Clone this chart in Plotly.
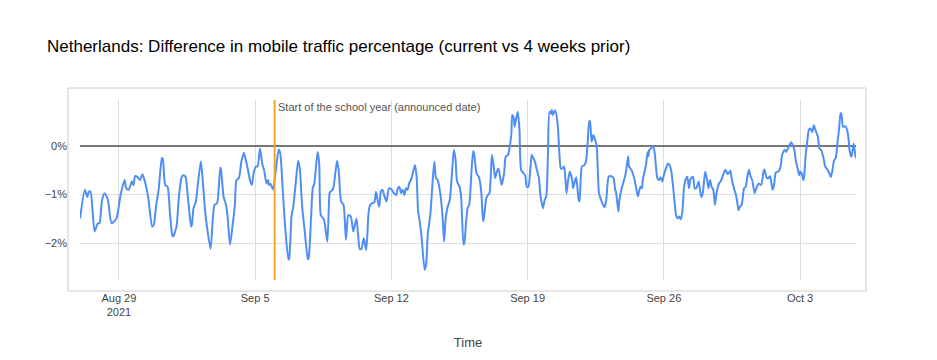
import pandas as pd
import plotly.graph_objects as go

TITLE = "Netherlands: Difference in mobile traffic percentage (current vs 4 weeks prior)"
ANNOT_DATE = "2021-09-06"
ANNOT_TEXT = "Start of the school year (announced date)"
Y_TICKS = [-2, -1, 0]
Y_TICK_LABELS = ["\u22122%", "\u22121%", "0%"]

times = [
    "08-27 00", "08-27 06", "08-27 09", "08-27 11", "08-27 13", "08-27 18", "08-27 22",
    "08-28 00", "08-28 03", "08-28 06", "08-28 10", "08-28 15", "08-28 21",
    "08-29 02", "08-29 07", "08-29 09", "08-29 12", "08-29 16", "08-29 18", "08-29 20", "08-29 23",
    "08-30 02", "08-30 05", "08-30 08", "08-30 12", "08-30 17", "08-30 19", "08-30 22",
    "08-31 01", "08-31 05", "08-31 06", "08-31 09", "08-31 12", "08-31 15", "08-31 18", "08-31 19", "08-31 23",
    "09-01 02", "09-01 05", "09-01 07", "09-01 10", "09-01 13", "09-01 17", "09-01 18", "09-01 20", "09-01 23",
    "09-02 01", "09-02 05", "09-02 07", "09-02 10", "09-02 12", "09-02 17", "09-02 20", "09-02 22",
    "09-03 01", "09-03 05", "09-03 06", "09-03 09", "09-03 12", "09-03 14", "09-03 17", "09-03 20", "09-03 23",
    "09-04 01", "09-04 04", "09-04 07", "09-04 10", "09-04 12", "09-04 15", "09-04 18", "09-04 20", "09-04 22",
    "09-05 01", "09-05 03", "09-05 06", "09-05 09", "09-05 11", "09-05 14", "09-05 16", "09-05 17", "09-05 19", "09-05 22",
    "09-06 01", "09-06 05", "09-06 07", "09-06 10", "09-06 13", "09-06 17", "09-06 18", "09-06 21", "09-06 23",
    "09-07 02", "09-07 05", "09-07 07", "09-07 10", "09-07 13", "09-07 17", "09-07 18", "09-07 21", "09-07 23",
    "09-08 01", "09-08 05", "09-08 07", "09-08 09", "09-08 13", "09-08 17", "09-08 19", "09-08 20",
    "09-09 00", "09-09 05", "09-09 07", "09-09 10", "09-09 13", "09-09 16", "09-09 19", "09-09 22",
    "09-10 01", "09-10 05", "09-10 09", "09-10 11", "09-10 14", "09-10 17", "09-10 20", "09-10 22",
    "09-11 00", "09-11 03", "09-11 05", "09-11 07", "09-11 09", "09-11 11", "09-11 13", "09-11 15", "09-11 18", "09-11 21",
    "09-12 00", "09-12 03", "09-12 06", "09-12 08", "09-12 10", "09-12 12", "09-12 14", "09-12 16", "09-12 18", "09-12 20", "09-12 22",
    "09-13 01", "09-13 05", "09-13 07", "09-13 09", "09-13 10", "09-13 13", "09-13 17", "09-13 19", "09-13 21",
    "09-14 00", "09-14 03", "09-14 05", "09-14 07", "09-14 09", "09-14 12", "09-14 15", "09-14 17", "09-14 19", "09-14 21",
    "09-15 00", "09-15 03", "09-15 05", "09-15 07", "09-15 09", "09-15 12", "09-15 14", "09-15 17", "09-15 18", "09-15 20", "09-15 22",
    "09-16 00", "09-16 03", "09-16 05", "09-16 06", "09-16 09", "09-16 12", "09-16 15", "09-16 17", "09-16 18", "09-16 21", "09-16 23",
    "09-17 01", "09-17 04", "09-17 06", "09-17 08", "09-17 10", "09-17 12", "09-17 14", "09-17 16", "09-17 19", "09-17 21",
    "09-18 00", "09-18 02", "09-18 04", "09-18 05", "09-18 07", "09-18 08", "09-18 10", "09-18 12", "09-18 14", "09-18 16", "09-18 19", "09-18 21", "09-18 23",
    "09-19 01", "09-19 05", "09-19 06", "09-19 09", "09-19 11", "09-19 14", "09-19 16", "09-19 19", "09-19 21", "09-19 23",
    "09-20 01", "09-20 03", "09-20 05", "09-20 06", "09-20 07", "09-20 10", "09-20 13", "09-20 15", "09-20 17", "09-20 19", "09-20 21",
    "09-21 00", "09-21 02", "09-21 04", "09-21 07", "09-21 08", "09-21 11", "09-21 12", "09-21 15", "09-21 16", "09-21 19", "09-21 22",
    "09-22 00", "09-22 02", "09-22 04", "09-22 05", "09-22 07", "09-22 09", "09-22 10", "09-22 13", "09-22 16", "09-22 18", "09-22 21", "09-22 23",
    "09-23 01", "09-23 04", "09-23 07", "09-23 10", "09-23 12", "09-23 13", "09-23 16", "09-23 17", "09-23 20", "09-23 23",
    "09-24 01", "09-24 04", "09-24 05", "09-24 08", "09-24 12", "09-24 14", "09-24 16", "09-24 19", "09-24 21", "09-24 22",
    "09-25 02", "09-25 04", "09-25 05", "09-25 06", "09-25 08", "09-25 11", "09-25 13", "09-25 16", "09-25 18", "09-25 20", "09-25 22",
    "09-26 00", "09-26 03", "09-26 05", "09-26 07", "09-26 09", "09-26 11", "09-26 13", "09-26 15", "09-26 17", "09-26 19", "09-26 21", "09-26 23",
    "09-27 01", "09-27 03", "09-27 05", "09-27 07", "09-27 09", "09-27 12", "09-27 14", "09-27 16", "09-27 19", "09-27 22",
    "09-28 00", "09-28 03", "09-28 05", "09-28 07", "09-28 09", "09-28 11", "09-28 13", "09-28 15", "09-28 17", "09-28 20", "09-28 22",
    "09-29 01", "09-29 04", "09-29 07", "09-29 10", "09-29 12", "09-29 15", "09-29 17", "09-29 19", "09-29 20", "09-29 22",
    "09-30 00", "09-30 03", "09-30 05", "09-30 07", "09-30 09", "09-30 11", "09-30 13", "09-30 16", "09-30 18", "09-30 21",
    "10-01 00", "10-01 03", "10-01 04", "10-01 07", "10-01 09", "10-01 11", "10-01 13", "10-01 14", "10-01 16", "10-01 18", "10-01 22",
    "10-02 00", "10-02 02", "10-02 05", "10-02 07", "10-02 09", "10-02 11", "10-02 13", "10-02 15", "10-02 17", "10-02 19", "10-02 21", "10-02 23",
    "10-03 00", "10-03 02", "10-03 04", "10-03 05", "10-03 07", "10-03 09", "10-03 11", "10-03 13", "10-03 15", "10-03 17", "10-03 19", "10-03 22",
    "10-04 00", "10-04 02", "10-04 05", "10-04 07", "10-04 10", "10-04 12", "10-04 14", "10-04 16", "10-04 18", "10-04 20", "10-04 22",
    "10-05 00", "10-05 02", "10-05 03", "10-05 05", "10-05 08", "10-05 10", "10-05 12", "10-05 13", "10-05 15", "10-05 16", "10-05 18", "10-05 19", "10-05 21",
]

values = [
    -1.49, -0.90, -1.05, -0.94, -0.94, -1.76, -1.59,
    -1.59, -1.14, -0.97, -1.08, -1.59, -1.49,
    -1.01, -0.70, -0.87, -0.90, -0.73, -0.80, -0.62, -0.64,
    -0.70, -0.58, -0.73, -1.04, -1.66, -1.62, -1.21,
    -0.90, -0.25, -0.25, -0.80, -0.84, -1.40, -1.85, -1.86, -1.66,
    -1.04, -0.66, -0.60, -0.63, -1.04, -1.66, -1.62, -1.28, -1.14,
    -0.84, -0.32, -0.63, -1.28, -1.59, -2.12, -1.45, -1.21,
    -1.18, -0.44, -0.49, -1.04, -1.21, -1.45, -2.03, -1.66, -1.21,
    -0.70, -0.66, -0.32, -0.14, -0.25, -0.48, -0.73, -0.80, -0.56,
    -0.42, -0.42, -0.05, -0.39, -0.49, -0.77, -0.70, -0.80, -0.78, -0.89,
    -0.56, -0.07, -0.15, -0.90, -1.66, -2.34, -2.31, -1.42, -1.25,
    -0.77, -0.30, -0.46, -1.25, -1.73, -2.33, -2.31, -1.45, -0.87,
    -0.77, -0.12, -0.36, -1.42, -1.52, -1.97, -1.18, -0.96,
    -0.89, -0.30, -0.49, -1.14, -1.21, -1.93, -1.42, -1.45,
    -1.76, -1.49, -2.12, -2.12, -1.90, -2.14, -1.35, -1.21,
    -1.18, -1.16, -0.94, -1.11, -1.25, -0.94, -0.90, -1.01, -1.14, -0.87,
    -0.89, -0.97, -1.01, -0.87, -0.84, -0.97, -0.90, -1.01, -0.87, -0.90, -0.77,
    -0.66, -0.39, -0.60, -1.36, -1.45, -1.83, -2.55, -2.41, -1.79,
    -1.42, -0.70, -0.32, -0.66, -0.70, -0.94, -1.42, -1.97, -1.49, -1.28,
    -1.11, -0.49, -0.08, -0.25, -0.73, -0.84, -1.04, -2.03, -2.00, -1.60, -1.28,
    -1.21, -0.46, -0.10, -0.15, -0.56, -0.64, -0.97, -1.55, -1.49, -1.08, -1.01,
    -0.97, -0.18, -0.39, -0.66, -0.53, -0.46, -0.63, -0.80, -0.56, -0.22,
    -0.18, -0.01, 0.26, 0.64, 0.57, 0.40, 0.57, 0.71, 0.33, -0.49, -0.56, -0.60, -0.84,
    -0.84, -0.18, -0.21, -0.32, -0.46, -0.66, -1.04, -1.28, -1.11, -1.04,
    -0.22, 0.71, 0.67, 0.75, 0.64, 0.74, 0.47, -0.08, -0.46, -0.46, -0.42,
    -0.97, -0.70, -0.53, -0.70, -0.87, -0.68, -0.64, -1.11, -1.14, -0.42, -0.39,
    -0.32, 0.05, 0.52, 0.50, 0.09, 0.23, 0.19, 0.02, -0.97, -1.08, -1.21, -1.26,
    -1.11, -0.63, -0.62, -0.66, -0.90, -0.94, -1.35, -1.14, -0.87, -0.70,
    -0.56, -0.21, -0.42, -0.49, -0.70, -0.87, -1.04, -0.84, -0.87, -0.70,
    -0.39, -0.12, -0.21, -0.08, -0.05, 0.00, -0.18, -0.66, -0.70, -0.64, -0.73,
    -0.60, -0.44, -0.36, -0.39, -0.49, -0.77, -1.11, -1.42, -1.49, -1.45, -1.51, -1.32,
    -0.84, -0.68, -0.63, -0.87, -0.68, -0.63, -0.87, -0.87, -0.73, -1.05,
    -0.97, -0.53, -0.66, -0.87, -0.70, -0.84, -0.90, -1.21, -0.97, -0.77, -0.73,
    -0.60, -0.49, -0.58, -0.51, -0.70, -0.90, -1.01, -1.21, -1.32, -1.25,
    -1.21, -0.87, -0.84, -0.63, -0.49, -0.63, -0.70, -0.97, -0.87, -0.77,
    -0.80, -0.53, -0.48, -0.66, -0.66, -0.62, -0.79, -0.90, -0.80, -0.55, -0.51,
    -0.42, -0.18, -0.08, -0.12, -0.05, 0.02, 0.08, 0.02, -0.08, -0.32, -0.46, -0.60,
    -0.53, -0.56, -0.70, -0.63, -0.18, 0.12, 0.34, 0.36, 0.29, 0.43, 0.33, 0.19,
    -0.05, -0.08, -0.25, -0.42, -0.49, -0.56, -0.64, -0.49, -0.29, -0.25, 0.05,
    0.33, 0.68, 0.66, 0.40, 0.41, 0.33, 0.12, -0.08, -0.22, -0.18, 0.05, -0.05, -0.25,
]

x = pd.to_datetime(["2021-" + t for t in times], format="%Y-%m-%d %H")

FONT = "Liberation Sans, Arial, Helvetica, sans-serif"

# the page body adds an 8px offset; figure is sized so the result fills 937x360
W, H = 929, 352
OFF = 8
L, R, T, B = 80 - OFF, W - (856 - OFF), 100 - OFF, H - (280 - OFF)
PW, PH = W - L - R, H - T - B

fig = go.Figure()
fig.add_trace(go.Scatter(
    x=x, y=values, mode="lines",
    line=dict(color="#4f8ef5", width=2, shape="spline", smoothing=0.6),
    showlegend=False, hoverinfo="x+y",
))

fig.update_layout(
    width=W, height=H,
    margin=dict(l=L, r=R, t=T, b=B, pad=0),
    paper_bgcolor="white", plot_bgcolor="white",
    font=dict(family=FONT, size=11, color="#444"),
    title=dict(text=TITLE, x=(47 - OFF) / W, xanchor="left", xref="container",
               y=1 - (46 - OFF) / H, yanchor="middle", yref="container",
               font=dict(size=17, color="#000", family=FONT)),
    xaxis=dict(
        type="date",
        range=[x[0], x[-1]],
        tick0="2021-08-29", dtick=7 * 86400000,
        showgrid=True, gridcolor="#dddddd", gridwidth=1,
        zeroline=False, showline=False, ticks="",
        ticklabelstandoff=10,
        tickfont=dict(size=11, color="#444"),
        title=dict(text="Time", font=dict(size=13, color="#444"), standoff=20),
    ),
    yaxis=dict(
        range=[-2.76, 0.95],
        tickmode="array", tickvals=Y_TICKS, ticktext=Y_TICK_LABELS,
        showgrid=True, gridcolor="#dddddd", gridwidth=1,
        zeroline=True, zerolinecolor="#777777", zerolinewidth=2,
        showline=False, ticks="",
        ticklabelstandoff=12,
        tickfont=dict(size=11, color="#444"),
    ),
)

# outer frame around chart area
fig.add_shape(type="rect", xref="paper", yref="paper",
              x0=(68 - 80) / PW, x1=(866 - 80) / PW,
              y0=(280 - 291) / PH, y1=(280 - 88) / PH,
              line=dict(color="#cccccc", width=1), fillcolor="rgba(0,0,0,0)", layer="below")

# annotation line
fig.add_shape(type="line", xref="x", yref="paper",
              x0=ANNOT_DATE, x1=ANNOT_DATE, y0=0, y1=1,
              line=dict(color="#f5a623", width=2))
fig.add_annotation(x=ANNOT_DATE, xref="x", y=(280 - 107) / PH, yref="paper",
                   text=ANNOT_TEXT, showarrow=False, xanchor="left", yanchor="middle",
                   xshift=1, font=dict(size=11, color="#555", family=FONT))

fig.write_html("out.html")
